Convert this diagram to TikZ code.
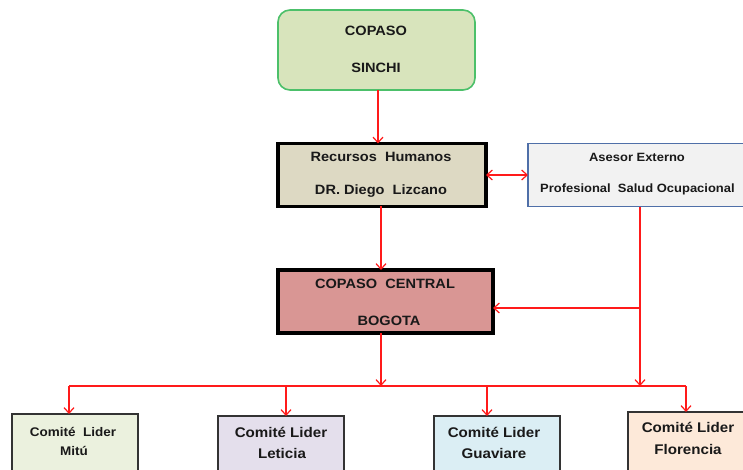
\documentclass[tikz,border=0pt]{standalone}
\usepackage{fontspec}
\setmainfont{Liberation Sans}[FakeStretch=1.08]
\usetikzlibrary{arrows.meta}
\definecolor{gfill}{HTML}{D8E4BC}
\definecolor{gline}{HTML}{4CC06A}
\definecolor{rhfill}{HTML}{DDD9C3}
\definecolor{asfill}{HTML}{F2F2F2}
\definecolor{asline}{HTML}{4F6FA8}
\definecolor{cfill}{HTML}{D99694}
\definecolor{mfill}{HTML}{EBF1DE}
\definecolor{lfill}{HTML}{E4DFEC}
\definecolor{vfill}{HTML}{DBEEF4}
\definecolor{ffill}{HTML}{FDE9D9}
\definecolor{arrred}{HTML}{FF1A1A}
\tikzset{
  box/.style={draw, inner sep=0pt, outer sep=0pt},
  lbl/.style={inner sep=0pt, font=\bfseries, text=black!90},
  arr/.style={draw=arrred, line width=1.2pt, -{Straight Barb[length=5.5pt,width=10pt]}},
  dblarr/.style={draw=arrred, line width=1.2pt, {Straight Barb[length=5.5pt,width=10pt]}-{Straight Barb[length=5.5pt,width=10pt]}},
  busline/.style={draw=arrred, line width=1.2pt},
  bottombox/.style={box, draw=black!80, line width=1.6pt, minimum width=126pt, minimum height=70pt}
}
\begin{document}
\begin{tikzpicture}[x=1pt,y=-1pt]
\useasboundingbox (0,0) rectangle (743,470);
\clip (0,0) rectangle (743,470);
\fill[white] (0,0) rectangle (743,470);
% boxes
\node[box, draw=gline, fill=gfill, line width=1.6pt, rounded corners=12pt, minimum width=197pt, minimum height=80pt] (sinchi) at (376.5,50) {};
\node[box, draw=black, fill=rhfill, line width=3.5pt, minimum width=208pt, minimum height=63pt] (rh) at (382,175) {};
\node[box, draw=asline, fill=asfill, line width=1.2pt, minimum width=224pt, minimum height=63pt] (asesor) at (640,175) {};
\node[box, draw=black, fill=cfill, line width=3.5pt, minimum width=215pt, minimum height=63pt] (central) at (385.5,301.5) {};
\node[bottombox, fill=mfill] (mitu) at (75,449) {};
\node[bottombox, fill=lfill] (leticia) at (281,451) {};
\node[bottombox, fill=vfill] (guaviare) at (497,451) {};
\node[bottombox, fill=ffill] (florencia) at (691,447) {};
% labels
\node[lbl, font=\bfseries\fontsize{13.5}{15}\selectfont] (t1) at (376,31) {COPASO};
\node[lbl, font=\bfseries\fontsize{13.5}{15}\selectfont] (t2) at (376,68) {SINCHI};
\node[lbl, font=\bfseries\fontsize{13.5}{15}\selectfont] (t3) at (381,157) {Recursos\ \ Humanos};
\node[lbl, font=\bfseries\fontsize{13.5}{15}\selectfont] (t4) at (381,191) {DR. Diego\ \ Lizcano};
\node[lbl, font=\bfseries\fontsize{12}{14}\selectfont] (t5) at (637,157) {Asesor Externo};
\node[lbl, font=\bfseries\fontsize{12}{14}\selectfont, anchor=west] (t6) at (540,189) {Profesional\ \ Salud Ocupacional};
\node[lbl, font=\bfseries\fontsize{13.5}{15}\selectfont] (t7) at (385,284) {COPASO\ \ CENTRAL};
\node[lbl, font=\bfseries\fontsize{13.5}{15}\selectfont] (t8) at (389,321) {BOGOTA};
\node[lbl, font=\bfseries\fontsize{12.5}{14}\selectfont] (t9) at (73,432) {Comité\ \ Lider};
\node[lbl, font=\bfseries\fontsize{12.5}{14}\selectfont] (t10) at (74,451) {Mitú};
\node[lbl, font=\bfseries\fontsize{14}{16}\selectfont] (t11) at (281,432) {Comité Lider};
\node[lbl, font=\bfseries\fontsize{14}{16}\selectfont] (t12) at (282,453) {Leticia};
\node[lbl, font=\bfseries\fontsize{14}{16}\selectfont] (t13) at (494,432) {Comité Lider};
\node[lbl, font=\bfseries\fontsize{14}{16}\selectfont] (t14) at (494,453) {Guaviare};
\node[lbl, font=\bfseries\fontsize{14}{16}\selectfont] (t15) at (688,427) {Comité Lider};
\node[lbl, font=\bfseries\fontsize{14}{16}\selectfont] (t16) at (688,449) {Florencia};
% coordinates
\coordinate (bus) at (381,386);
\coordinate (busL) at (69,386);
\coordinate (busR) at (686,386);
\coordinate (d2) at (286,386);
\coordinate (d3) at (487,386);
\coordinate (j1) at (640,308);
\coordinate (v1) at (640,207);
% connectors
\draw[arr] (sinchi.south -| 378,0) -- (378,0 |- rh.north);
\draw[arr] (rh.south -| bus) -- (bus |- central.north);
\draw[dblarr] (rh.east) -- (asesor.west);
\draw[busline] (v1) -- (j1);
\draw[arr] (j1) -- (j1 -| central.east);
\draw[arr] (j1) -- (j1 |- bus);
\draw[arr] (central.south -| bus) -- (bus);
\draw[busline] (busL) -- (busR);
\draw[arr] (busL) -- (busL |- mitu.north);
\draw[arr] (d2) -- (d2 |- leticia.north);
\draw[arr] (d3) -- (d3 |- guaviare.north);
\draw[arr] (busR) -- (busR |- florencia.north);
\end{tikzpicture}
\end{document}
